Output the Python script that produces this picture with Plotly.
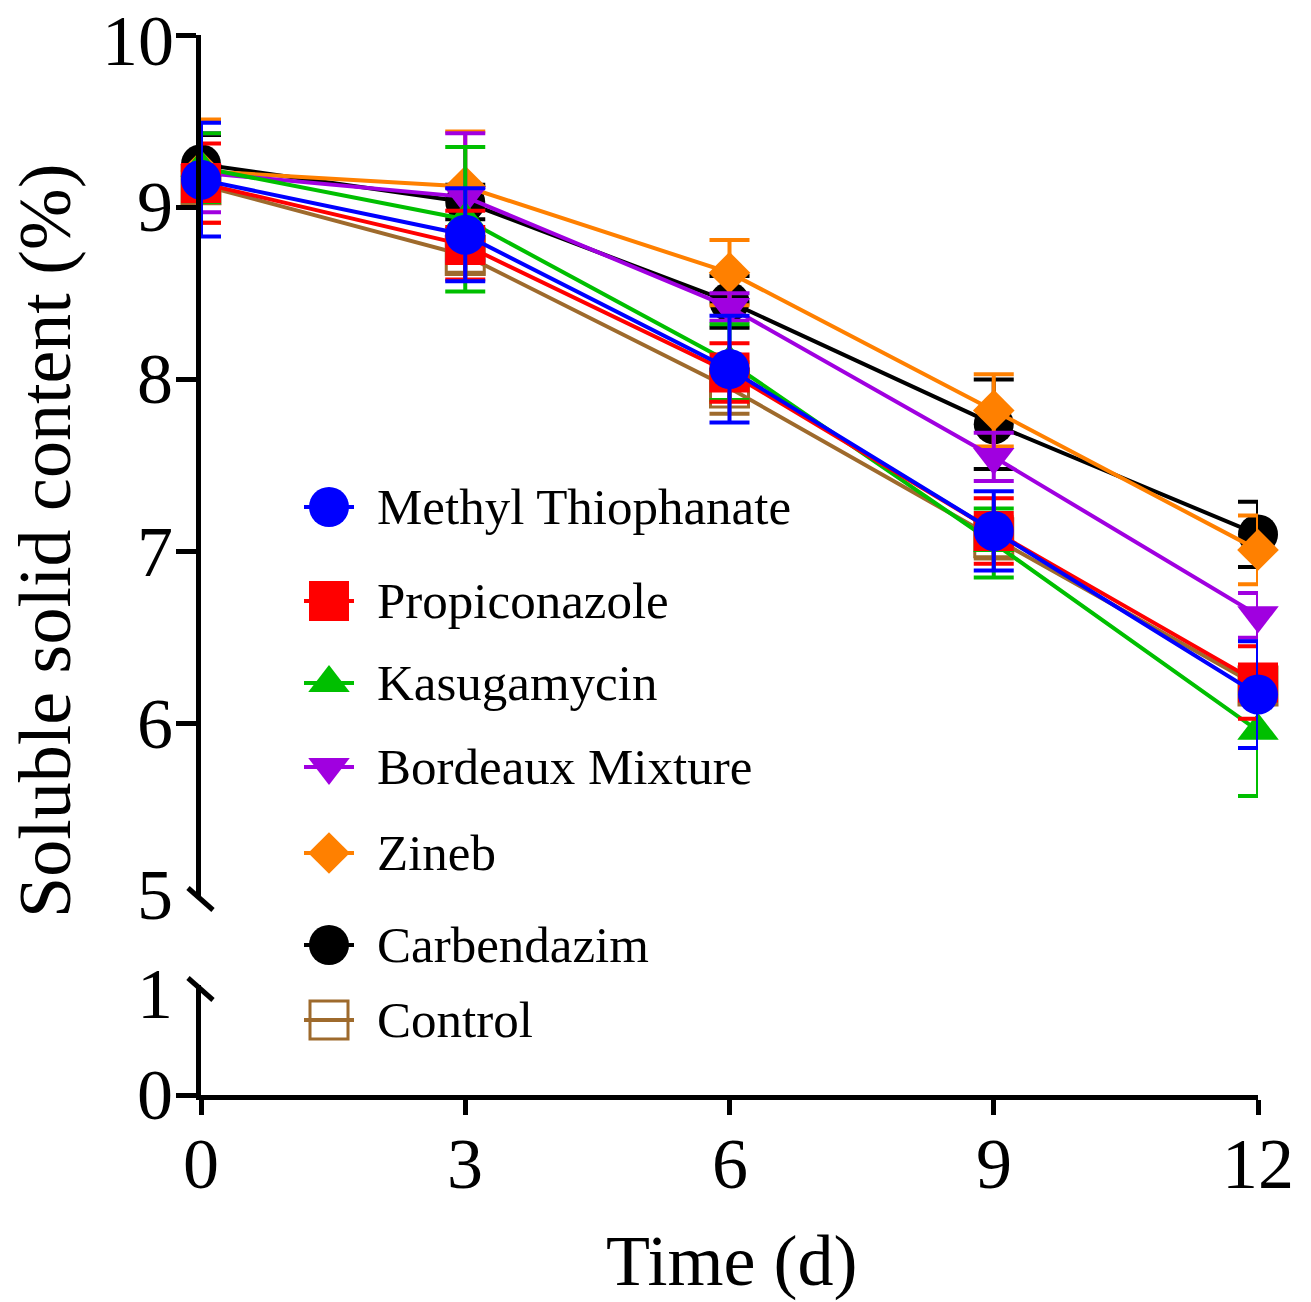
import plotly.graph_objects as go

days = [0, 3, 6, 9, 12]
x_tick_labels = ["0", "3", "6", "9", "12"]
upper_y_ticks = [6, 7, 8, 9, 10]
lower_y_ticks = [0]

series_names = ["Control", "Carbendazim", "Zineb", "Bordeaux Mixture",
                "Kasugamycin", "Propiconazole", "Methyl Thiophanate"]

control = [9.13, 8.72, 7.95, 7.08, 6.22]
control_err = [0.10, 0.10, 0.15, 0.12, 0.10]
carbendazim = [9.25, 9.03, 8.45, 7.74, 7.10]
carbendazim_err = [0.17, 0.10, 0.15, 0.26, 0.19]
zineb = [9.21, 9.12, 8.62, 7.82, 7.01]
zineb_err = [0.30, 0.32, 0.19, 0.21, 0.20]
bordeaux = [9.20, 9.06, 8.42, 7.55, 6.63]
bordeaux_err = [0.23, 0.37, 0.08, 0.14, 0.13]
kasugamycin = [9.23, 8.93, 8.10, 7.05, 5.96]
kasugamycin_err = [0.20, 0.42, 0.22, 0.20, 0.38]
propiconazole = [9.14, 8.78, 8.04, 7.12, 6.24]
propiconazole_err = [0.23, 0.20, 0.17, 0.19, 0.21]
methyl = [9.16, 8.84, 8.06, 7.12, 6.17]
methyl_err = [0.33, 0.27, 0.31, 0.23, 0.31]

values = [control, carbendazim, zineb, bordeaux, kasugamycin, propiconazole, methyl]
errors = [control_err, carbendazim_err, zineb_err, bordeaux_err,
          kasugamycin_err, propiconazole_err, methyl_err]
colors = ["#9E6A2C", "#000000", "#FF8000", "#A000E0", "#00BF00", "#FF0000", "#0000FF"]
symbols = ["square-open", "circle", "diamond", "triangle-down", "triangle-up", "square", "circle"]
sizes = [38, 40, 32, 36, 36, 40, 40]

legend_order = ["Methyl Thiophanate", "Propiconazole", "Kasugamycin",
                "Bordeaux Mixture", "Zineb", "Carbendazim", "Control"]
legend_rows_px = [507, 601, 683, 767, 853, 945, 1020]

# plot-area pixel geometry
L, R, T, B = 201, 1258, 35, 1095
W, H = R - L, B - T
FONT = "Liberation Serif"
TICKFONT = dict(family=FONT, size=72, color="black")
LW = 4


def px_x(p):
    return (p - L) / W


def px_y(p):
    return (B - p) / H


fig = go.Figure()

# empty trace so the lower (broken) axis segment forms a subplot
fig.add_trace(go.Scatter(x=[None], y=[None], xaxis="x", yaxis="y2",
                         showlegend=False, hoverinfo="skip"))

for name, v, e, c, s, sz in zip(series_names, values, errors, colors, symbols, sizes):
    fig.add_trace(go.Scatter(
        x=days, y=v, name=name, mode="lines+markers",
        xaxis="x", yaxis="y", cliponaxis=False, showlegend=False,
        line=dict(color=c, width=LW),
        marker=dict(symbol=s, size=sz, color=c,
                    line=dict(color=c, width=3 if s.endswith("open") else 0)),
        error_y=dict(type="data", array=e, visible=True, color=c,
                     thickness=LW, width=20),
    ))

# manual legend (keys drawn on an overlay axis equal to paper space)
for name, ypx in zip(legend_order, legend_rows_px):
    i = series_names.index(name)
    yk = px_y(ypx)
    fig.add_shape(type="line", xref="paper", yref="paper",
                  x0=px_x(304), x1=px_x(354), y0=yk, y1=yk,
                  line=dict(color=colors[i], width=LW))
    fig.add_trace(go.Scatter(
        x=[px_x(329)], y=[yk], mode="markers", xaxis="x3", yaxis="y3",
        cliponaxis=False, showlegend=False, hoverinfo="skip",
        marker=dict(symbol=symbols[i], size=sizes[i], color=colors[i],
                    line=dict(color=colors[i], width=3 if symbols[i].endswith("open") else 0)),
    ))
    fig.add_annotation(x=px_x(375), y=yk, xref="paper", yref="paper",
                       text=name, showarrow=False, xanchor="left", yanchor="middle",
                       font=dict(family=FONT, size=51, color="black"))

# axis break marks
for y0p, y1p in [(888, 910), (978, 1000)]:
    fig.add_shape(type="line", xref="paper", yref="paper",
                  x0=px_x(188), x1=px_x(213), y0=px_y(y0p), y1=px_y(y1p),
                  line=dict(color="black", width=5))

# y tick labels (placed through the y scales)
for v in upper_y_ticks:
    if v == 10:
        fig.add_annotation(x=px_x(175), y=px_y(0), xref="paper", yref="paper",
                           text=str(v), showarrow=False, xanchor="right", yanchor="top",
                           borderpad=0, font=TICKFONT)
    else:
        fig.add_annotation(x=px_x(175), y=v, xref="paper", yref="y",
                           text=str(v), showarrow=False, xanchor="right", yanchor="middle",
                           font=TICKFONT)
for v in lower_y_ticks:
    fig.add_annotation(x=px_x(175), y=v, xref="paper", yref="y2",
                       text=str(v), showarrow=False, xanchor="right", yanchor="middle",
                       font=TICKFONT)
# labels at the break positions
for txt, ypx in [("5", 895), ("1", 994)]:
    fig.add_annotation(x=px_x(175), y=px_y(ypx), xref="paper", yref="paper",
                       text=txt, showarrow=False, xanchor="right", yanchor="middle",
                       font=TICKFONT)

# x tick labels (placed through the x scale)
for d, lab in zip(days, x_tick_labels):
    fig.add_annotation(x=d, y=px_y(1164), xref="x", yref="paper",
                       text=lab, showarrow=False, xanchor="center", yanchor="middle",
                       font=TICKFONT)

# axis titles
fig.add_annotation(x=px_x(45), y=px_y(541), xref="paper", yref="paper",
                   text="Soluble solid content (%)", showarrow=False, textangle=-90,
                   xanchor="center", yanchor="middle",
                   font=dict(family=FONT, size=74, color="black"))
fig.add_annotation(x=px_x(731), y=px_y(1302), xref="paper", yref="paper",
                   text="Time (d)", showarrow=False, borderpad=0,
                   xanchor="center", yanchor="bottom",
                   font=dict(family=FONT, size=72, color="black"))

axis_common = dict(showline=True, linewidth=5, linecolor="black", ticks="outside",
                   tickwidth=5, tickcolor="black", showgrid=False, zeroline=False,
                   automargin=False, showticklabels=False)

fig.update_layout(
    template="none",
    width=1311, height=1302,
    margin=dict(l=L, r=1311 - R, t=T, b=1302 - B),
    paper_bgcolor="white", plot_bgcolor="rgba(0,0,0,0)",
    showlegend=False,
    xaxis=dict(range=[0, 12], tickvals=days, anchor="y2", ticklen=15, **axis_common),
    yaxis=dict(domain=[px_y(896), 1], range=[5, 10], tickvals=upper_y_ticks,
               anchor="x", ticklen=20, **axis_common),
    yaxis2=dict(domain=[0, px_y(985)], range=[0, 1], tickvals=lower_y_ticks, anchor="x",
                ticklen=20, **axis_common),
    xaxis3=dict(domain=[0, 1], range=[0, 1], visible=False, anchor="y3"),
    yaxis3=dict(domain=[0, 1], range=[0, 1], visible=False, anchor="x3"),
)

fig.write_html("out.html", config={"displayModeBar": False},
               post_script="document.body.style.margin='0';")
